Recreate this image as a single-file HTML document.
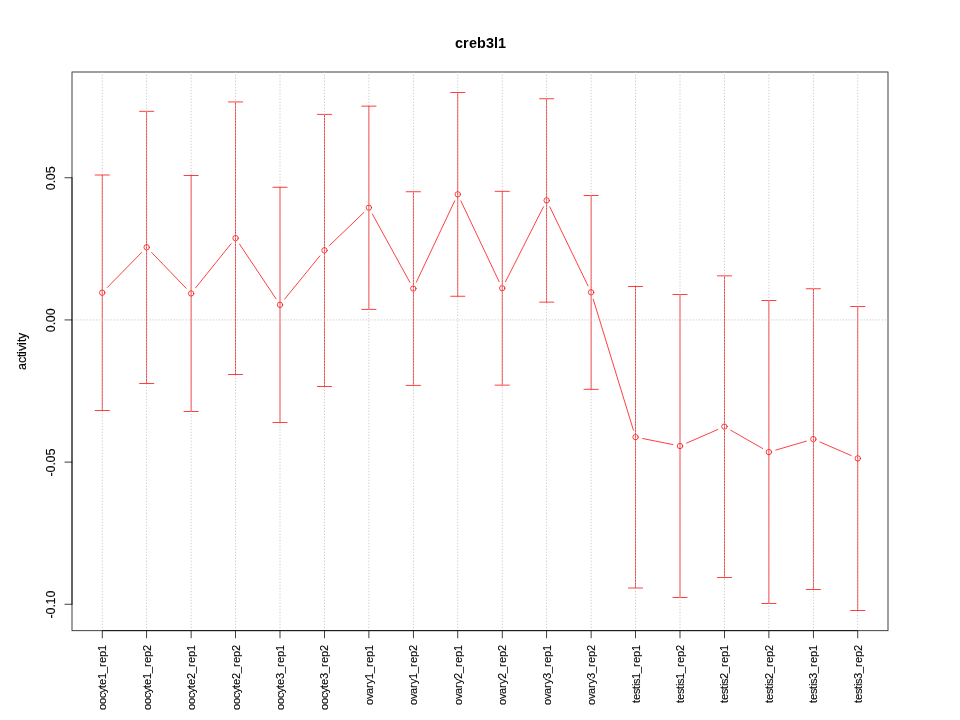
<!DOCTYPE html>
<html><head><meta charset="utf-8"><title>creb3l1</title>
<style>html,body{margin:0;padding:0;background:#fff;overflow:hidden}svg{display:block}text{font-family:"Liberation Sans",sans-serif;fill:#000}</style></head><body>
<svg width="960" height="720" viewBox="0 0 960 720">
<defs>
<pattern id="vd" patternUnits="userSpaceOnUse" x="0" y="71.0" width="960" height="3"><rect x="0" y=".71" width="960" height="1.33" fill="#bebebe"/></pattern>
<pattern id="hd" patternUnits="userSpaceOnUse" x="71.0" y="0" width="3" height="720"><rect x=".71" y="0" width="1.33" height="720" fill="#bebebe"/></pattern>
</defs>
<rect x="0" y="0" width="960" height="720" fill="#fff"/>
<g fill="#000"><rect x="71.625" y="71.625" width="816.75" height=".75"/><rect x="71.625" y="630.345" width="816.75" height=".75"/><rect x="71.625" y="72.375" width=".75" height="557.97"/><rect x="887.625" y="72.375" width=".75" height="557.97"/></g>
<g stroke="#ff0000" stroke-width="0.75" stroke-linecap="round" fill="none">
<line x1="107.259" y1="287.555" x2="141.63" y2="252.445"/>
<line x1="151.661" y1="252.486" x2="186.117" y2="288.264"/>
<line x1="195.622" y1="287.838" x2="231.045" y2="243.762"/>
<line x1="239.55" y1="244.14" x2="276.005" y2="298.81"/>
<line x1="284.55" y1="299.22" x2="319.894" y2="255.88"/>
<line x1="329.642" y1="245.318" x2="363.691" y2="212.682"/>
<line x1="372.356" y1="214.01" x2="409.866" y2="282.29"/>
<line x1="416.404" y1="282.088" x2="454.707" y2="200.862"/>
<line x1="460.859" y1="200.857" x2="499.141" y2="281.693"/>
<line x1="505.474" y1="281.776" x2="543.415" y2="206.824"/>
<line x1="549.801" y1="206.882" x2="587.976" y2="285.818"/>
<line x1="593.224" y1="299.183" x2="633.443" y2="430.217"/>
<line x1="642.615" y1="438.514" x2="672.94" y2="444.586"/>
<line x1="686.599" y1="443.12" x2="717.846" y2="429.48"/>
<line x1="730.689" y1="430.183" x2="762.644" y2="448.517"/>
<line x1="775.799" y1="450.079" x2="806.423" y2="441.121"/>
<line x1="819.937" y1="441.968" x2="851.173" y2="455.532"/>
<circle cx="102.222" cy="292.7" r="2.7"/>
<circle cx="146.667" cy="247.3" r="2.7"/>
<circle cx="191.111" cy="293.45" r="2.7"/>
<circle cx="235.556" cy="238.15" r="2.7"/>
<circle cx="280" cy="304.8" r="2.7"/>
<circle cx="324.444" cy="250.3" r="2.7"/>
<circle cx="368.889" cy="207.7" r="2.7"/>
<circle cx="413.333" cy="288.6" r="2.7"/>
<circle cx="457.778" cy="194.35" r="2.7"/>
<circle cx="502.222" cy="288.2" r="2.7"/>
<circle cx="546.667" cy="200.4" r="2.7"/>
<circle cx="591.111" cy="292.3" r="2.7"/>
<circle cx="635.555" cy="437.1" r="2.7"/>
<circle cx="680" cy="446" r="2.7"/>
<circle cx="724.444" cy="426.6" r="2.7"/>
<circle cx="768.889" cy="452.1" r="2.7"/>
<circle cx="813.333" cy="439.1" r="2.7"/>
<circle cx="857.778" cy="458.4" r="2.7"/>
</g>
<g fill="#ff0000">
<rect x="101.847" y="174.71" width=".75" height="236.08"/><rect x="94.732" y="174.625" width="14.98" height=".75"/><rect x="94.732" y="410.125" width="14.98" height=".75"/>
<rect x="146.292" y="110.96" width=".75" height="272.73"/><rect x="139.177" y="110.875" width="14.98" height=".75"/><rect x="139.177" y="383.025" width="14.98" height=".75"/>
<rect x="190.736" y="175.21" width=".75" height="236.48"/><rect x="183.621" y="175.125" width="14.98" height=".75"/><rect x="183.621" y="411.025" width="14.98" height=".75"/>
<rect x="235.181" y="101.66" width=".75" height="273.03"/><rect x="228.066" y="101.575" width="14.98" height=".75"/><rect x="228.066" y="374.025" width="14.98" height=".75"/>
<rect x="279.625" y="186.91" width=".75" height="235.78"/><rect x="272.51" y="186.825" width="14.98" height=".75"/><rect x="272.51" y="422.025" width="14.98" height=".75"/>
<rect x="324.069" y="114.01" width=".75" height="272.68"/><rect x="316.954" y="113.925" width="14.98" height=".75"/><rect x="316.954" y="386.025" width="14.98" height=".75"/>
<rect x="368.514" y="105.81" width=".75" height="203.78"/><rect x="361.399" y="105.725" width="14.98" height=".75"/><rect x="361.399" y="308.925" width="14.98" height=".75"/>
<rect x="412.958" y="191.51" width=".75" height="194.08"/><rect x="405.843" y="191.425" width="14.98" height=".75"/><rect x="405.843" y="384.925" width="14.98" height=".75"/>
<rect x="457.403" y="92.21" width=".75" height="204.28"/><rect x="450.288" y="92.125" width="14.98" height=".75"/><rect x="450.288" y="295.825" width="14.98" height=".75"/>
<rect x="501.847" y="190.96" width=".75" height="194.43"/><rect x="494.732" y="190.875" width="14.98" height=".75"/><rect x="494.732" y="384.725" width="14.98" height=".75"/>
<rect x="546.292" y="98.51" width=".75" height="203.88"/><rect x="539.177" y="98.425" width="14.98" height=".75"/><rect x="539.177" y="301.725" width="14.98" height=".75"/>
<rect x="590.736" y="195.11" width=".75" height="194.43"/><rect x="583.621" y="195.025" width="14.98" height=".75"/><rect x="583.621" y="388.875" width="14.98" height=".75"/>
<rect x="635.18" y="286.11" width=".75" height="302.18"/><rect x="628.065" y="286.025" width="14.98" height=".75"/><rect x="628.065" y="587.625" width="14.98" height=".75"/>
<rect x="679.625" y="294.11" width=".75" height="303.78"/><rect x="672.51" y="294.025" width="14.98" height=".75"/><rect x="672.51" y="597.225" width="14.98" height=".75"/>
<rect x="724.069" y="275.61" width=".75" height="302.08"/><rect x="716.954" y="275.525" width="14.98" height=".75"/><rect x="716.954" y="577.025" width="14.98" height=".75"/>
<rect x="768.514" y="300.21" width=".75" height="303.68"/><rect x="761.399" y="300.125" width="14.98" height=".75"/><rect x="761.399" y="603.225" width="14.98" height=".75"/>
<rect x="812.958" y="288.51" width=".75" height="301.28"/><rect x="805.843" y="288.425" width="14.98" height=".75"/><rect x="805.843" y="589.125" width="14.98" height=".75"/>
<rect x="857.403" y="306.11" width=".75" height="304.58"/><rect x="850.288" y="306.025" width="14.98" height=".75"/><rect x="850.288" y="610.025" width="14.98" height=".75"/>
</g>
<g>
<rect x="101.847" y="71.71" width="0.75" height="559.3" fill="url(#vd)"/>
<rect x="146.292" y="71.71" width="0.75" height="559.3" fill="url(#vd)"/>
<rect x="190.736" y="71.71" width="0.75" height="559.3" fill="url(#vd)"/>
<rect x="235.181" y="71.71" width="0.75" height="559.3" fill="url(#vd)"/>
<rect x="279.625" y="71.71" width="0.75" height="559.3" fill="url(#vd)"/>
<rect x="324.069" y="71.71" width="0.75" height="559.3" fill="url(#vd)"/>
<rect x="368.514" y="71.71" width="0.75" height="559.3" fill="url(#vd)"/>
<rect x="412.958" y="71.71" width="0.75" height="559.3" fill="url(#vd)"/>
<rect x="457.403" y="71.71" width="0.75" height="559.3" fill="url(#vd)"/>
<rect x="501.847" y="71.71" width="0.75" height="559.3" fill="url(#vd)"/>
<rect x="546.292" y="71.71" width="0.75" height="559.3" fill="url(#vd)"/>
<rect x="590.736" y="71.71" width="0.75" height="559.3" fill="url(#vd)"/>
<rect x="635.18" y="71.71" width="0.75" height="559.3" fill="url(#vd)"/>
<rect x="679.625" y="71.71" width="0.75" height="559.3" fill="url(#vd)"/>
<rect x="724.069" y="71.71" width="0.75" height="559.3" fill="url(#vd)"/>
<rect x="768.514" y="71.71" width="0.75" height="559.3" fill="url(#vd)"/>
<rect x="812.958" y="71.71" width="0.75" height="559.3" fill="url(#vd)"/>
<rect x="857.403" y="71.71" width="0.75" height="559.3" fill="url(#vd)"/>
<rect x="71.71" y="319.565" width="816.58" height="0.75" fill="url(#hd)"/>
</g>
<g fill="#000">
<rect x="101.932" y="630.345" width="756.135" height=".75"/>
<rect x="101.847" y="630.43" width=".75" height="7.78"/><rect x="146.292" y="630.43" width=".75" height="7.78"/><rect x="190.736" y="630.43" width=".75" height="7.78"/><rect x="235.181" y="630.43" width=".75" height="7.78"/><rect x="279.625" y="630.43" width=".75" height="7.78"/><rect x="324.069" y="630.43" width=".75" height="7.78"/><rect x="368.514" y="630.43" width=".75" height="7.78"/><rect x="412.958" y="630.43" width=".75" height="7.78"/><rect x="457.403" y="630.43" width=".75" height="7.78"/><rect x="501.847" y="630.43" width=".75" height="7.78"/><rect x="546.292" y="630.43" width=".75" height="7.78"/><rect x="590.736" y="630.43" width=".75" height="7.78"/><rect x="635.18" y="630.43" width=".75" height="7.78"/><rect x="679.625" y="630.43" width=".75" height="7.78"/><rect x="724.069" y="630.43" width=".75" height="7.78"/><rect x="768.514" y="630.43" width=".75" height="7.78"/><rect x="812.958" y="630.43" width=".75" height="7.78"/><rect x="857.403" y="630.43" width=".75" height="7.78"/>
<rect x="71.625" y="177.51" width=".75" height="426.98"/>
<rect x="64.51" y="177.425" width="7.78" height=".75"/><rect x="64.51" y="319.565" width="7.78" height=".75"/><rect x="64.51" y="461.695" width="7.78" height=".75"/><rect x="64.51" y="603.825" width="7.78" height=".75"/>
</g>
<g opacity="0.999">
<text transform="translate(480.6 47.8)" x="-25.5 -17.5 -11.5 -3.5 5.5 13.5 17.5" y="0" font-size="14.4" font-weight="bold">creb3l1</text>
<text transform="translate(26.2 351.4) rotate(-90) scale(1.04 1.05)" x="-17.788 -11.058 -5.288 -2.404 .481 6.25 9.135 12.019" y="0" font-size="12" stroke="#000" stroke-width="0.15">activity</text>
<text transform="translate(55.2 178.2) rotate(-90) scale(1.04 1.05)" x="-11.538 -4.808 -1.923 4.808" y="0" font-size="12" stroke="#000" stroke-width="0.15">0.05</text>
<text transform="translate(55.2 320.34) rotate(-90) scale(1.04 1.05)" x="-11.538 -4.808 -1.923 4.808" y="0" font-size="12" stroke="#000" stroke-width="0.15">0.00</text>
<text transform="translate(55.2 462.47) rotate(-90) scale(1.04 1.05)" x="-13.462 -9.615 -2.885 0 6.731" y="0" font-size="12" stroke="#000" stroke-width="0.15">-0.05</text>
<text transform="translate(55.2 604.6) rotate(-90) scale(1.04 1.05)" x="-13.462 -9.615 -2.885 0 6.731" y="0" font-size="12" stroke="#000" stroke-width="0.15">-0.10</text>
<text transform="translate(106 645) rotate(-90) scale(1.0 1.04)" x="-65 -59 -53 -48 -43 -40 -34 -28 -22 -18 -12 -6" y="0" font-size="11.0" stroke="#000" stroke-width="0.1">oocyte1_rep1</text>
<text transform="translate(151 645) rotate(-90) scale(1.0 1.04)" x="-65 -59 -53 -48 -43 -40 -34 -28 -22 -18 -12 -6" y="0" font-size="11.0" stroke="#000" stroke-width="0.1">oocyte1_rep2</text>
<text transform="translate(195 645) rotate(-90) scale(1.0 1.04)" x="-65 -59 -53 -48 -43 -40 -34 -28 -22 -18 -12 -6" y="0" font-size="11.0" stroke="#000" stroke-width="0.1">oocyte2_rep1</text>
<text transform="translate(240 645) rotate(-90) scale(1.0 1.04)" x="-65 -59 -53 -48 -43 -40 -34 -28 -22 -18 -12 -6" y="0" font-size="11.0" stroke="#000" stroke-width="0.1">oocyte2_rep2</text>
<text transform="translate(284 645) rotate(-90) scale(1.0 1.04)" x="-65 -59 -53 -48 -43 -40 -34 -28 -22 -18 -12 -6" y="0" font-size="11.0" stroke="#000" stroke-width="0.1">oocyte3_rep1</text>
<text transform="translate(328 645) rotate(-90) scale(1.0 1.04)" x="-65 -59 -53 -48 -43 -40 -34 -28 -22 -18 -12 -6" y="0" font-size="11.0" stroke="#000" stroke-width="0.1">oocyte3_rep2</text>
<text transform="translate(373 645) rotate(-90) scale(1.0 1.04)" x="-60 -54 -49 -43 -39 -34 -28 -22 -18 -12 -6" y="0" font-size="11.0" stroke="#000" stroke-width="0.1">ovary1_rep1</text>
<text transform="translate(417 645) rotate(-90) scale(1.0 1.04)" x="-60 -54 -49 -43 -39 -34 -28 -22 -18 -12 -6" y="0" font-size="11.0" stroke="#000" stroke-width="0.1">ovary1_rep2</text>
<text transform="translate(462 645) rotate(-90) scale(1.0 1.04)" x="-60 -54 -49 -43 -39 -34 -28 -22 -18 -12 -6" y="0" font-size="11.0" stroke="#000" stroke-width="0.1">ovary2_rep1</text>
<text transform="translate(506 645) rotate(-90) scale(1.0 1.04)" x="-60 -54 -49 -43 -39 -34 -28 -22 -18 -12 -6" y="0" font-size="11.0" stroke="#000" stroke-width="0.1">ovary2_rep2</text>
<text transform="translate(551 645) rotate(-90) scale(1.0 1.04)" x="-60 -54 -49 -43 -39 -34 -28 -22 -18 -12 -6" y="0" font-size="11.0" stroke="#000" stroke-width="0.1">ovary3_rep1</text>
<text transform="translate(595 645) rotate(-90) scale(1.0 1.04)" x="-60 -54 -49 -43 -39 -34 -28 -22 -18 -12 -6" y="0" font-size="11.0" stroke="#000" stroke-width="0.1">ovary3_rep2</text>
<text transform="translate(640 645) rotate(-90) scale(1.0 1.04)" x="-58 -55 -49 -44 -41 -39 -34 -28 -22 -18 -12 -6" y="0" font-size="11.0" stroke="#000" stroke-width="0.1">testis1_rep1</text>
<text transform="translate(684 645) rotate(-90) scale(1.0 1.04)" x="-58 -55 -49 -44 -41 -39 -34 -28 -22 -18 -12 -6" y="0" font-size="11.0" stroke="#000" stroke-width="0.1">testis1_rep2</text>
<text transform="translate(728 645) rotate(-90) scale(1.0 1.04)" x="-58 -55 -49 -44 -41 -39 -34 -28 -22 -18 -12 -6" y="0" font-size="11.0" stroke="#000" stroke-width="0.1">testis2_rep1</text>
<text transform="translate(773 645) rotate(-90) scale(1.0 1.04)" x="-58 -55 -49 -44 -41 -39 -34 -28 -22 -18 -12 -6" y="0" font-size="11.0" stroke="#000" stroke-width="0.1">testis2_rep2</text>
<text transform="translate(817 645) rotate(-90) scale(1.0 1.04)" x="-58 -55 -49 -44 -41 -39 -34 -28 -22 -18 -12 -6" y="0" font-size="11.0" stroke="#000" stroke-width="0.1">testis3_rep1</text>
<text transform="translate(862 645) rotate(-90) scale(1.0 1.04)" x="-58 -55 -49 -44 -41 -39 -34 -28 -22 -18 -12 -6" y="0" font-size="11.0" stroke="#000" stroke-width="0.1">testis3_rep2</text>
</g>
</svg></body></html>
